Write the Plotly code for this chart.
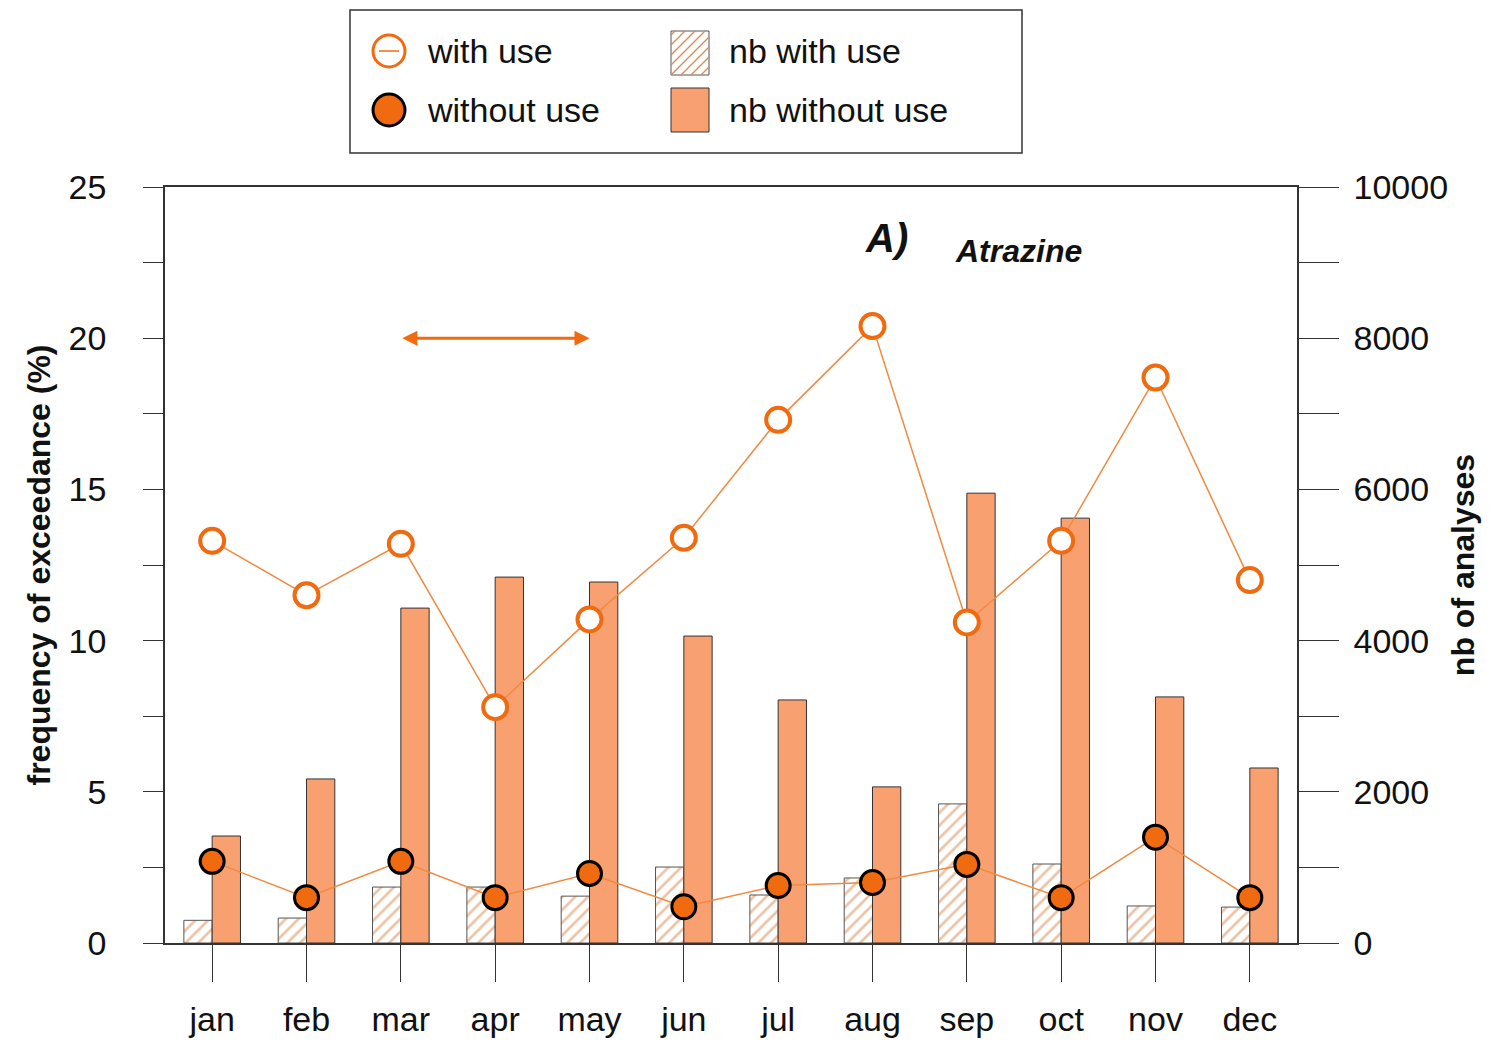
import plotly.graph_objects as go

months = ["jan","feb","mar","apr","may","jun","jul","aug","sep","oct","nov","dec"]
freq_with = [13.3,11.5,13.2,7.8,10.7,13.4,17.3,20.4,10.6,13.3,18.7,12.0]
freq_without = [2.7,1.5,2.7,1.5,2.3,1.2,1.9,2.0,2.6,1.5,3.5,1.5]
nb_with = [300,330,740,740,620,1005,635,860,1840,1045,490,475]
nb_without = [1415,2170,4430,4840,4775,4060,3215,2065,5950,5620,3255,2315]

orange = "#F06A10"
light = "#F9A070"
hatch = dict(shape="/", fgcolor="#D88850", bgcolor="white", size=9, solidity=0.3)
xi = list(range(12))

OFF = 8
L, R, T, B = 165, 1297, 187, 943
def px(x): return (x - L) / (R - L)
def py(y): return (B - y) / (B - T)

fig = go.Figure()
fig.add_trace(go.Bar(x=[i-0.15 for i in xi], y=nb_with, name="nb with use", width=0.3,
    marker=dict(color="white", line=dict(color="#555", width=1), pattern=hatch), yaxis="y"))
fig.add_trace(go.Bar(x=[i+0.15 for i in xi], y=nb_without, name="nb without use", width=0.3,
    marker=dict(color=light, line=dict(color="#333", width=1)), yaxis="y"))
fig.add_trace(go.Scatter(x=xi, y=freq_with, name="with use", mode="lines+markers",
    line=dict(color="#F08A40", width=1.5),
    marker=dict(size=24, color="white", line=dict(color=orange, width=4)), yaxis="y2"))
fig.add_trace(go.Scatter(x=xi, y=freq_without, name="without use", mode="lines+markers",
    line=dict(color="#F08A40", width=1.5),
    marker=dict(size=24, color=orange, line=dict(color="black", width=3)), yaxis="y2"))

fig.update_layout(
    width=1507, height=1046, plot_bgcolor="white", paper_bgcolor="white",
    margin=dict(l=L-OFF, r=1507-(R-L)-(L-OFF), t=T-OFF, b=1046-(B-T)-(T-OFF)),
    font=dict(family="Arial, Liberation Sans", size=34, color="#111"),
    barmode="overlay", showlegend=False,
    xaxis=dict(range=[-0.5,11.5], tickvals=xi, ticktext=months, ticks="outside", ticklen=37,
               tickcolor="#333", showline=True, linecolor="#333", linewidth=1.5, mirror=True,
               showgrid=False, zeroline=False, ticklabelstandoff=8),
    yaxis=dict(range=[0,10000], side="right", tickvals=[0,2000,4000,6000,8000,10000],
               ticktext=["0","2000","4000","6000","8000","10000"],
               ticks="outside", ticklen=40, tickcolor="#333", showline=True, linecolor="#333",
               linewidth=1.5, showgrid=False, zeroline=False, ticklabelstandoff=8,
               minor=dict(dtick=1000, ticks="outside", ticklen=40, tickcolor="#333"),
               title=dict(text="<b>nb of analyses</b>", font=dict(size=32), standoff=5)),
    yaxis2=dict(range=[0,25], overlaying="y", side="left", tickvals=[0,5,10,15,20,25],
               ticks="outside", ticklen=20, tickcolor="#333", showline=True, linecolor="#333",
               linewidth=1.5, showgrid=False, zeroline=False, ticklabelstandoff=30,
               minor=dict(dtick=2.5, ticks="outside", ticklen=20, tickcolor="#333"),
               title=dict(text="<b>frequency of exceedance (%)</b>", font=dict(size=32), standoff=8)),
)

# manual legend
fig.add_shape(type="rect", xref="paper", yref="paper", x0=px(350), x1=px(1022), y0=py(153), y1=py(10),
              line=dict(color="#333", width=1.5), fillcolor="white")
fig.add_shape(type="circle", xref="paper", yref="paper", x0=px(373), x1=px(405), y0=py(67), y1=py(35),
              line=dict(color=orange, width=3), fillcolor="white")
fig.add_shape(type="line", xref="paper", yref="paper", x0=px(379), x1=px(399), y0=py(51), y1=py(51),
              line=dict(color=orange, width=1.5))
fig.add_shape(type="circle", xref="paper", yref="paper", x0=px(373), x1=px(405), y0=py(126), y1=py(94),
              line=dict(color="black", width=3), fillcolor=orange)
fig.add_shape(type="rect", xref="paper", yref="paper", x0=px(671), x1=px(709), y0=py(75), y1=py(31),
              line=dict(color="#555", width=1), fillcolor="white")
for k in range(8):
    a = 671 + k*10 - 40
    fig.add_shape(type="line", xref="paper", yref="paper",
                  x0=px(max(a,671)), y0=py(75 - max(0,671-a)),
                  x1=px(min(a+44,709)), y1=py(31 + max(0,a+44-709)),
                  line=dict(color="#D88850", width=1.2))
fig.add_shape(type="rect", xref="paper", yref="paper", x0=px(671), x1=px(709), y0=py(132), y1=py(88),
              line=dict(color="#333", width=1), fillcolor=light)
for txt, x, y in [("with use",425,51),("without use",425,110),("nb with use",727,51),("nb without use",727,110)]:
    fig.add_annotation(xref="paper", yref="paper", x=px(x), y=py(y), text=txt, showarrow=False,
                       xanchor="left", yanchor="middle", font=dict(size=34))

fig.add_annotation(x=4.0, y=20, ax=2.0, ay=20, xref="x", yref="y2", axref="x", ayref="y2",
    showarrow=True, arrowhead=2, arrowside="end+start", arrowwidth=3, arrowcolor=orange, text="")
fig.add_annotation(x=7.15, y=23.3, xref="x", yref="y2", text="<b><i>A)</i></b>", showarrow=False,
    font=dict(size=40, color="#111"))
fig.add_annotation(x=8.55, y=22.9, xref="x", yref="y2", text="<b><i>Atrazine</i></b>", showarrow=False,
    font=dict(size=32, color="#111"))

fig.write_html("out.html")
